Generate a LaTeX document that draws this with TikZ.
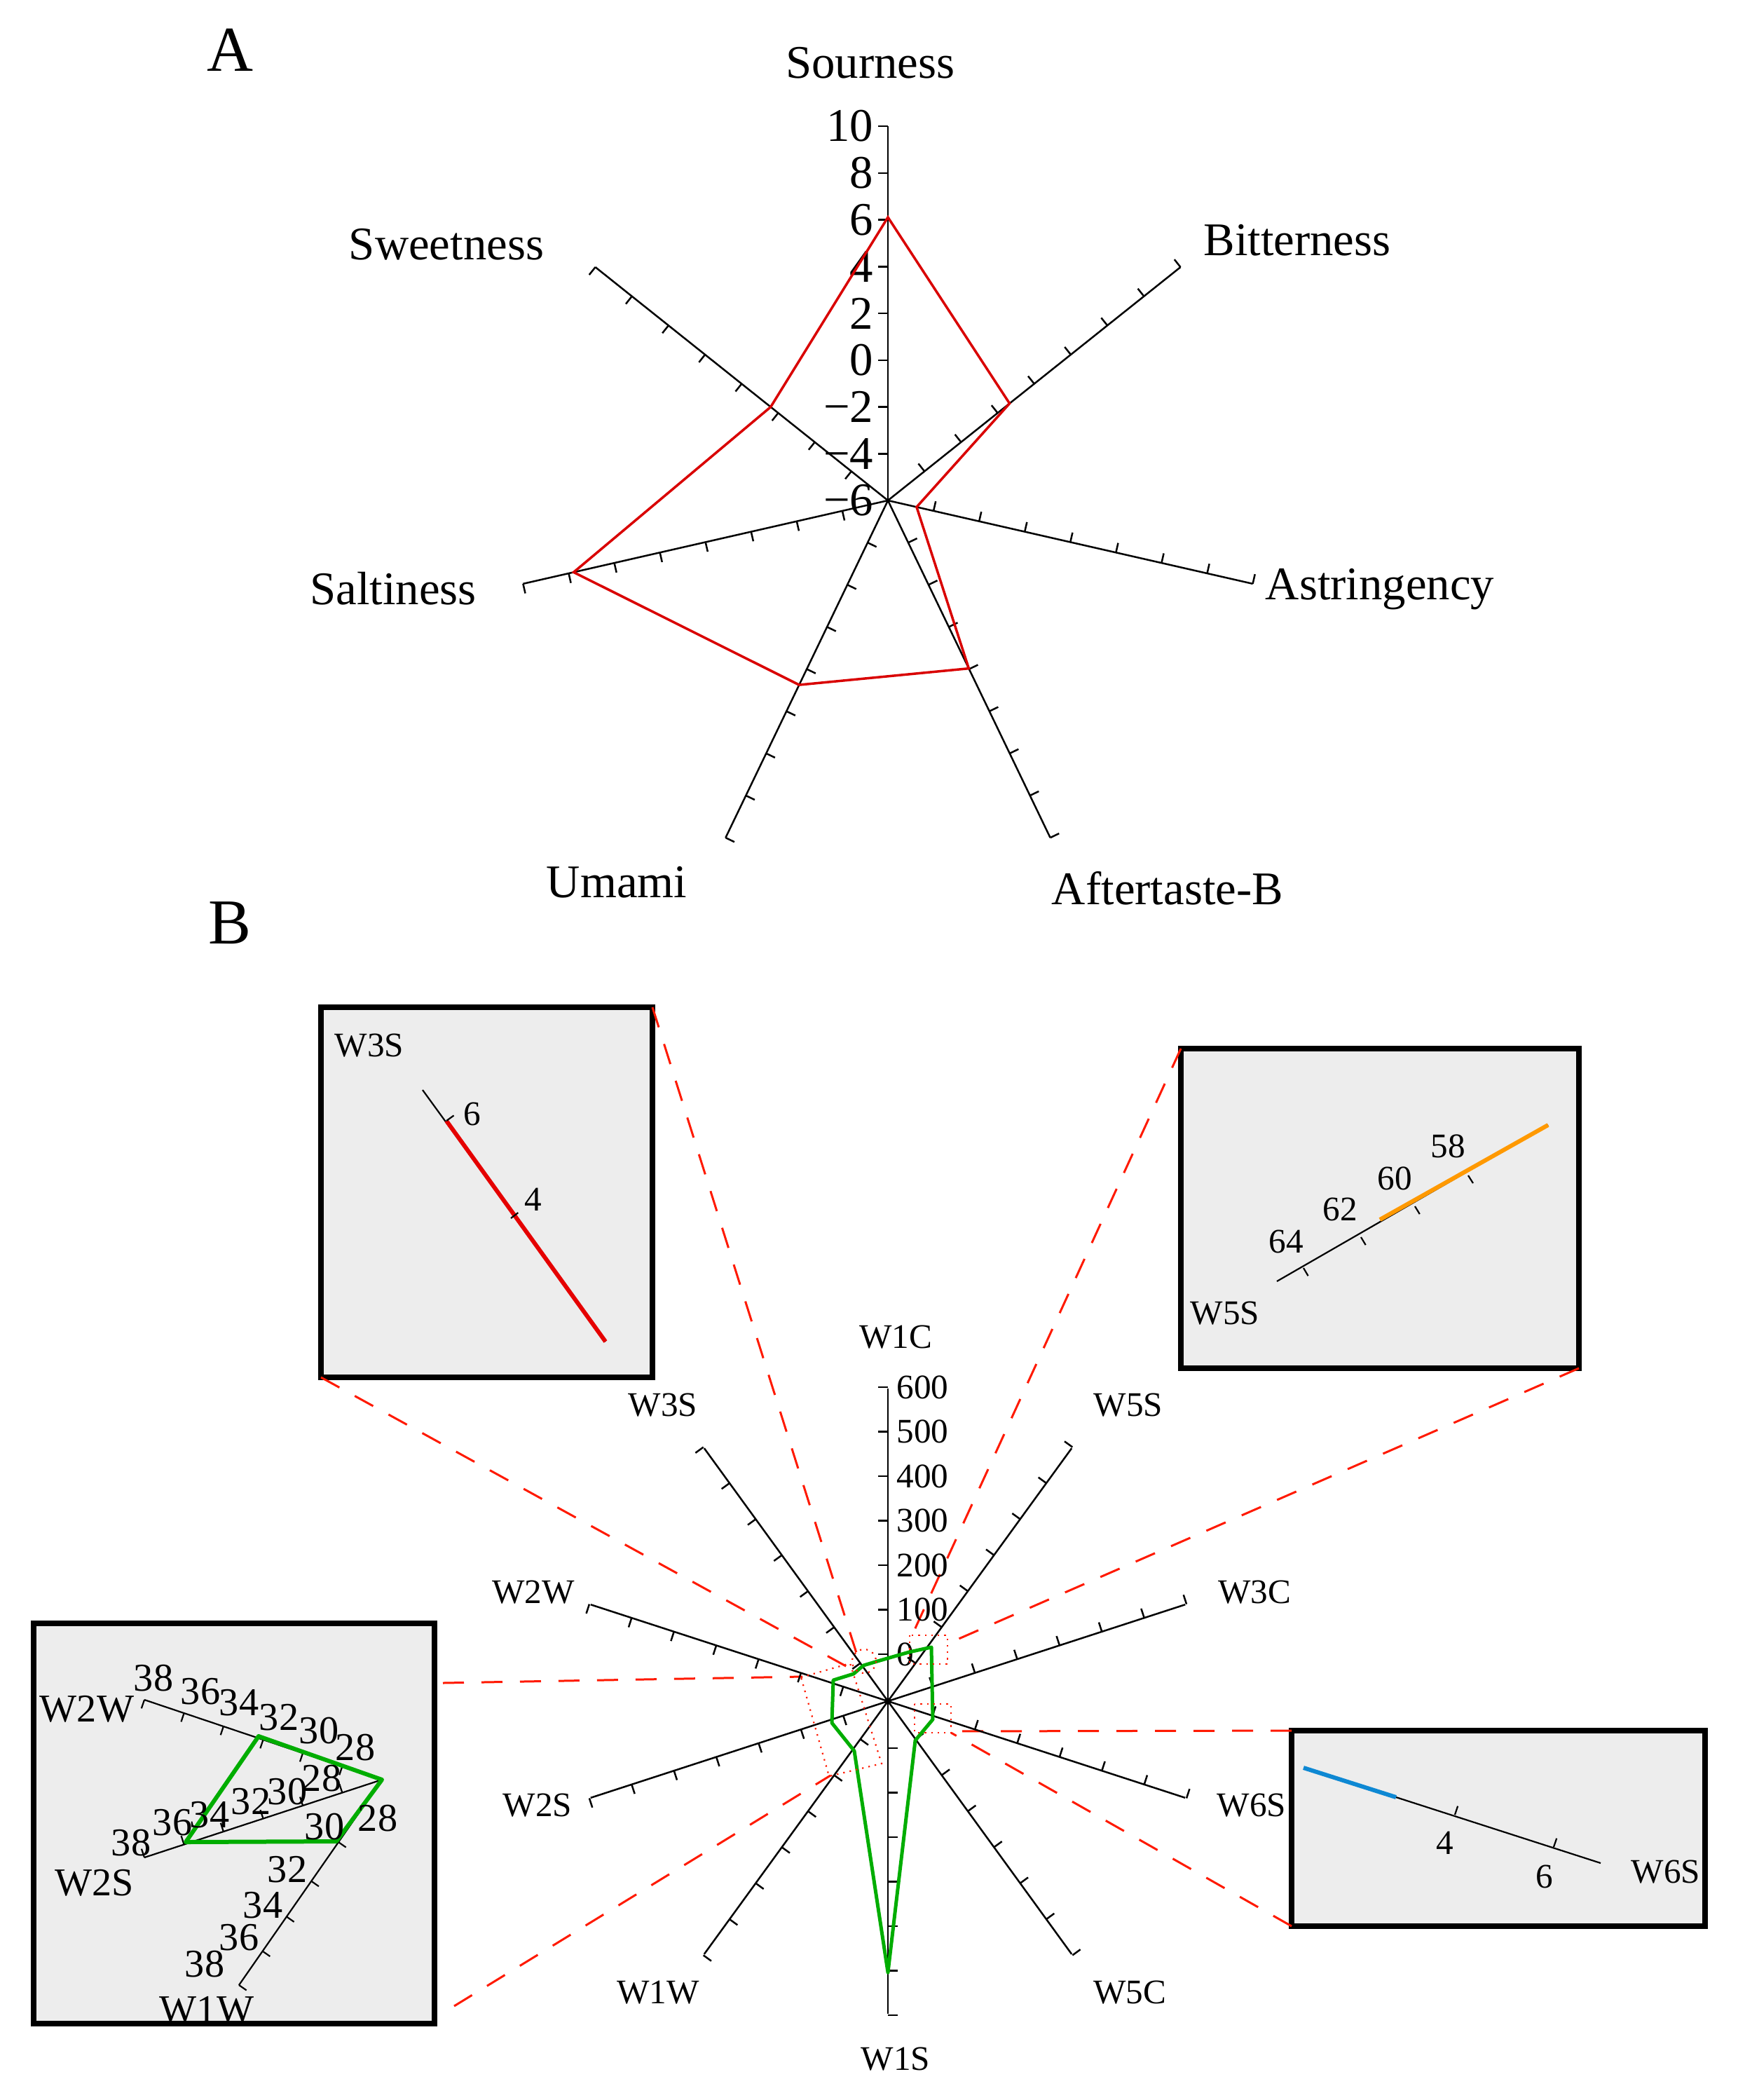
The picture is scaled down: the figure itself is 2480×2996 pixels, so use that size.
\documentclass[tikz,border=0pt]{standalone}
\usepackage{fontspec}
\setmainfont{Liberation Serif}
\usetikzlibrary{calc}
\begin{document}
\begin{tikzpicture}[x=0.1mm,y=-0.1mm,
  axis/.style={black,line width=0.25mm},
  lbA/.style={font=\fontsize{19}{22}\selectfont,inner sep=0},
  lbB/.style={font=\fontsize{14}{16}\selectfont,inner sep=0},
  tl/.style={font=\fontsize{14}{16}\selectfont,inner sep=0},
  il/.style={font=\fontsize{16}{18}\selectfont,inner sep=0},
  big/.style={font=\fontsize{26}{30}\selectfont,inner sep=0},
  inset/.style={draw=black,line width=0.75mm,fill=gray!14},
  zoomln/.style={red!80!orange,line width=0.3mm,dash pattern=on 3mm off 2.5mm},
  dotb/.style={red!80!orange,line width=0.22mm,dotted},
  tick/.style={black,line width=0.22mm}]
\useasboundingbox (0,0) rectangle (2480,2996);
% ---------------- Part A
\node[big] (lA) at (328,71) {A};
\node[big] (lB) at (328,1317) {B};
\begin{scope}[shift={(1267,714)}]
\coordinate (cA) at (0,0);
\foreach \n/\a in {so/-90,bi/-38.57,as/12.86,af/64.29,um/115.71,sa/167.14,sw/-141.43}{
  \coordinate (\n) at (\a:534);
  \draw[axis] (cA) -- (\n);
  \foreach \k in {1,...,8} \draw[axis] (\a:\k*66.75) -- ++(\a-90:14);
}
\foreach \k/\v in {0/−6,1/−4,2/−2,3/0,4/2,5/4,6/6,7/8,8/10}
  \node[lbA,anchor=east] (ta\k) at (-20,-\k*66.75) {\v};
\draw[red!85!black,line width=0.35mm] (-90:404)--(-38.57:222)--(12.86:42)--(64.29:266)--(115.71:292)--(167.14:460)--(-141.43:214)--cycle;
\end{scope}
\node[lbA] (Lso) at (1242,90) {Sourness};
\node[lbA] (Lbi) at (1851,343) {Bitterness};
\node[lbA] (Las) at (1969,841) {Astringency};
\node[lbA] (Laf) at (1666,1267) {Aftertaste-B};
\node[lbA] (Lum) at (880,1259) {Umami};
\node[lbA] (Lsa) at (561,840) {Saltiness};
\node[lbA] (Lsw) at (637,349) {Sweetness};
% ---------------- Part B insets & zoom lines
\coordinate (i3nw) at (458,1437); \coordinate (i3se) at (931,1965);
\coordinate (i3ne) at (931,1437); \coordinate (i3sw) at (458,1965);
\coordinate (i5nw) at (1685,1496); \coordinate (i5se) at (2253,1952);
\coordinate (i2nw) at (48,2316); \coordinate (i2se) at (620,2887);
\coordinate (i2ne) at (620,2316);
\coordinate (i6nw) at (1843,2469); \coordinate (i6se) at (2433,2748);
\coordinate (i6sw) at (1843,2748);
\draw[inset] (i3nw) rectangle (i3se);
\draw[inset] (i5nw) rectangle (i5se);
\draw[inset] (i2nw) rectangle (i2se);
\draw[inset] (i6nw) rectangle (i6se);
\coordinate (z3a) at (1222,2358); \coordinate (z3b) at (1218,2383);
\coordinate (z5a) at (1300,2336); \coordinate (z5b) at (1352,2345);
\coordinate (z2a) at (1145,2392); \coordinate (z2b) at (1185,2533);
\coordinate (z6a) at (1357,2470); \coordinate (z6b) at (1357,2472);
\draw[zoomln] (i3ne) -- (z3a);
\draw[zoomln] (i3sw) -- (z3b);
\draw[zoomln] (i5nw) -- (z5a);
\draw[zoomln] (i5se) -- (z5b);
\draw[zoomln] ($(i2ne)+(12,85)$) -- (z2a);
\draw[zoomln] ($(i2se)+(28,-25)$) -- (z2b);
\draw[zoomln] (i6nw) -- (z6a);
\draw[zoomln] (i6sw) -- (z6b);
% ---------------- Part B radar
\begin{scope}[shift={(1267,2427)}]
\coordinate (cB) at (0,0);
\foreach \n/\a in {w1c/-90,w5s/-54,w3c/-18,w6s/18,w5c/54,w1s/90,w1w/126,w2s/162,w2w/-162,w3s/-126}{
  \coordinate (\n) at (\a:446);
  \draw[axis] (cB) -- (\n);
  \foreach \k in {0,...,6} \draw[axis] (\a:67+\k*63.5) -- ++(\a-90:14);
}
\foreach \k in {0,...,6}
  \node[tl,anchor=west] (tb\k) at (12,-67-\k*63.5) {\the\numexpr\k*100\relax};
\fill (cB) circle (5);
\end{scope}
\draw[green!60!black!80!green,line width=0.5mm,line join=round]
 (1329,2350)--(1331,2453)--(1306,2483)--(1267,2814)--(1219,2498)--(1187,2458)--(1189,2397)
 --(1218,2388)--(1232,2376)--(1252,2370)--(1297,2357)--cycle;
\draw[dotb] (1233,2370) circle (17);
\draw[dotb] (1298,2333) rectangle (1352,2374);
\draw[dotb] (1305,2431) rectangle (1357,2472);
\draw[dotb] (1143,2393)--(1213,2373)--(1258,2516)--(1183,2534)--cycle;
\node[lbB] (Lw1c) at (1278,1908) {W1C};
\node[lbB] (Lw5s) at (1610,2005) {W5S};
\node[lbB] (Lw3c) at (1790,2272) {W3C};
\node[lbB] (Lw6s) at (1786,2576) {W6S};
\node[lbB] (Lw5c) at (1612,2843) {W5C};
\node[lbB] (Lw1s) at (1278,2938) {W1S};
\node[lbB] (Lw1w) at (939,2843) {W1W};
\node[lbB] (Lw2s) at (767,2576) {W2S};
\node[lbB] (Lw2w) at (761,2272) {W2W};
\node[lbB] (Lw3s) at (946,2005) {W3S};
% ---------------- inset W3S
\node[lbB] (i3l) at (527,1492) {W3S};
\coordinate (i3s) at (603,1555); \coordinate (i3e) at (864,1914);
\coordinate (i3r) at (637,1599); \coordinate (i3t) at (729,1738);
\draw[tick] (i3s) -- (i3e);
\draw[red!90!black,line width=0.6mm] (i3r) -- (i3e);
\draw[tick] (i3r) -- ($(i3r)!1.3mm!90:(i3e)$);
\draw[tick] (i3t) -- ($(i3t)!1.3mm!90:(i3e)$);
\node[tl] (i3n6) at (674,1589) {6};
\node[tl] (i3n4) at (761,1711) {4};
% ---------------- inset W5S
\node[lbB] (i5l) at (1748,1874) {W5S};
\coordinate (i5s) at (1822,1828); \coordinate (i5e) at (2209,1605); \coordinate (i5o) at (1969,1740);
\draw[tick] (i5s) -- (i5e);
\draw[orange!80!yellow,line width=0.6mm] (i5o) -- (i5e);
\foreach \p/\v/\q in {{1860,1809}/64/{1835,1771},{1942,1765}/62/{1912,1725},{2019,1721}/60/{1990,1681},{2095,1677}/58/{2066,1635}}{
  \draw[tick] (\p) -- ($(\p)!1.3mm!-90:(i5e)$);
  \node[tl] at (\q) {\v};
}
% ---------------- inset W6S
\node[lbB] (i6l) at (2377,2671) {W6S};
\coordinate (i6s) at (1860,2522); \coordinate (i6m) at (1992,2564); \coordinate (i6e) at (2284,2658);
\draw[tick] (i6m) -- (i6e);
\draw[cyan!70!blue,line width=0.6mm] (i6s) -- (i6m);
\foreach \p/\v/\q in {{2076,2589}/4/{2062,2629},{2217,2635}/6/{2204,2677}}{
  \draw[tick] (\p) -- ($(\p)!1.3mm!90:(i6e)$);
  \node[tl] at (\q) {\v};
}
% ---------------- inset W2
\coordinate (q2w) at (206,2425); \coordinate (q2s) at (206,2650); \coordinate (q1w) at (341,2832);
\coordinate (qc) at (545,2539);
\draw[tick] (q2w) -- (qc);
\draw[tick] (q2s) -- (qc);
\draw[tick] (q1w) -- (qc);
\foreach \f in {0,0.167,0.333,0.5,0.667,0.833}{
  \draw[tick] ($(q2w)!\f!(qc)$) -- ($($(q2w)!\f!(qc)$)!1.3mm!-90:(qc)$);
  \draw[tick] ($(q2s)!\f!(qc)$) -- ($($(q2s)!\f!(qc)$)!1.3mm!90:(qc)$);
}
\foreach \f in {0,0.165,0.333,0.506,0.696}
  \draw[tick] ($(q1w)!\f!(qc)$) -- ($($(q1w)!\f!(qc)$)!1.3mm!-90:(qc)$);
\draw[green!60!black!80!green,line width=0.6mm,line join=round] (369,2477)--(545,2539)--(480,2627)--(265,2628)--cycle;
\node[il] (q2wl) at (124,2438) {W2W};
\node[il] (q2sl) at (135,2686) {W2S};
\node[il] (q1wl) at (295,2867) {W1W};
\foreach \v/\q in {38/{219,2394},36/{286,2413},34/{341,2429},32/{398,2450},30/{455,2469},28/{507,2493},
  38/{187,2629},36/{246,2600},34/{299,2589},32/{358,2570},30/{410,2556},28/{459,2537},
  28/{539,2594},30/{463,2606},32/{410,2667},34/{375,2718},36/{341,2764},38/{292,2802}}
  \node[il] at (\q) {\v};
\end{tikzpicture}
\end{document}
